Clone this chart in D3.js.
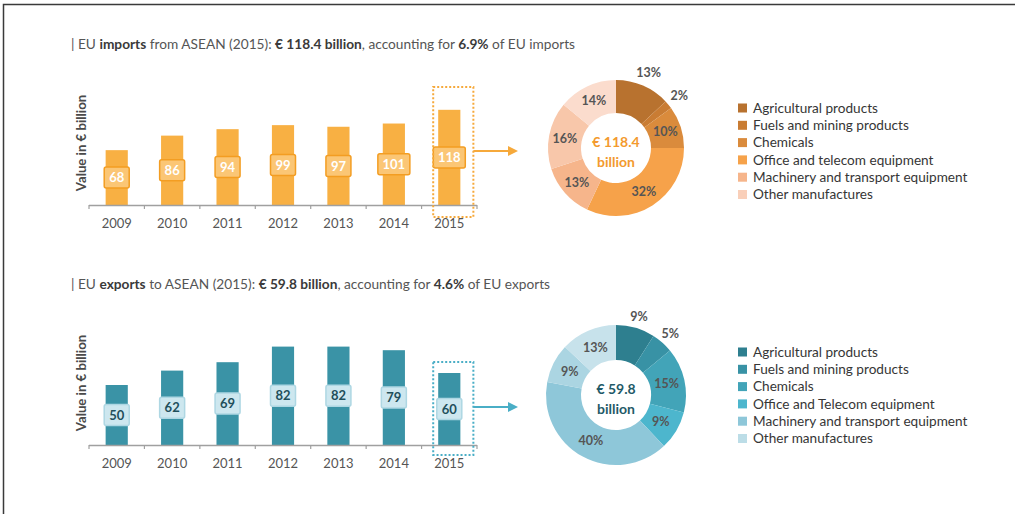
<!DOCTYPE html>
<html>
<head>
<meta charset="utf-8">
<script src="https://d3js.org/d3.v7.min.js"></script>
<style>
  body { margin: 0; background: #fff; }
  svg { display: block; font-family: Lato, "Open Sans", sans-serif; }
</style>
</head>
<body>
<div id="chart"></div>
<script>
// Data
var years = ["2009", "2010", "2011", "2012", "2013", "2014", "2015"];
var importValues = [68, 86, 94, 99, 97, 101, 118];
var exportValues = [50, 62, 69, 82, 82, 79, 60];

// donut slices, clockwise from 12 o'clock
var importShares = [13, 2, 10, 32, 13, 16, 14];
var exportShares = [9, 5, 15, 9, 40, 9, 13];

var importLegend = ["Agricultural products", "Fuels and mining products", "Chemicals",
  "Office and telecom equipment", "Machinery and transport equipment", "Other manufactures"];
var exportLegend = ["Agricultural products", "Fuels and mining products", "Chemicals",
  "Office and Telecom equipment", "Machinery and transport equipment", "Other manufactures"];

var width = 1015;
var height = 514;

var svg = d3.select("#chart")
  .append("svg")
  .attr("width", width)
  .attr("height", height);

// frame (top and left edges only)
svg.append("path")
  .attr("d", "M3.5," + height + "V4.5H" + width)
  .style("fill", "none")
  .style("stroke", "#3a3a3a")
  .style("stroke-width", 1.5);

var panels = [
  {
    title: [["| EU ", 400], ["imports", 700], [" from ASEAN (2015): ", 400], ["€ 118.4 billion", 700],
      [", accounting for ", 400], ["6.9%", 700], [" of EU imports", 400]],
    titleY: 49,
    values: importValues,
    maxValue: 150, yTop: 84, baseline: 205,
    bar: "#f8b043", boxFill: "#fbc675", boxStroke: "#f39d22", boxText: "#ffffff",
    accent: "#f6a93b",
    hiTop: 87, hiBottom: 217, arrowY: 151,
    shares: importShares,
    sliceColors: ["#b8722f", "#c97c33", "#da8b3c", "#f6a24a", "#f6b58b", "#f8c7aa", "#fbdccd"],
    legendColors: ["#b8722f", "#c97c33", "#da8b3c", "#f6a24a", "#f6b58b", "#f9cfb9"],
    legend: importLegend,
    cy: 148, outerR: 68,
    center: ["€ 118.4", "billion"], centerColor: "#f39a2e",
    legendY: 108
  },
  {
    title: [["| EU ", 400], ["exports", 700], [" to ASEAN (2015): ", 400], ["€ 59.8 billion", 700],
      [", accounting for ", 400], ["4.6%", 700], [" of EU exports", 400]],
    titleY: 289,
    values: exportValues,
    maxValue: 100, yTop: 325, baseline: 445,
    bar: "#3a93a6", boxFill: "#cde7ef", boxStroke: "#aed7e3", boxText: "#1f4f5b",
    accent: "#4aaec6",
    hiTop: 362, hiBottom: 455, arrowY: 407,
    shares: exportShares,
    sliceColors: ["#2e7f8f", "#3892a5", "#42a4b8", "#4db6cd", "#8ec7d9", "#abd5e2", "#c7e2eb"],
    legendColors: ["#2e7f8f", "#3892a5", "#42a4b8", "#4db6cd", "#8ec7d9", "#bcdde7"],
    legend: exportLegend,
    cy: 395, outerR: 70,
    center: ["€ 59.8", "billion"], centerColor: "#1f5a68",
    legendY: 352
  }
];

panels.forEach(function(p) {
  var g = svg.append("g");

  // Title
  var title = g.append("text")
    .attr("x", 71)
    .attr("y", p.titleY)
    .attr("font-size", "13.7px")
    .style("fill", "#555");
  title.selectAll("tspan")
    .data(p.title)
    .enter().append("tspan")
    .attr("font-weight", function(d) { return d[1]; })
    .style("fill", function(d) { return d[1] == 700 ? "#3a3a3a" : "#555"; })
    .text(function(d) { return d[0]; });

  // Scales
  var x = d3.scaleBand()
    .domain(years)
    .range([89, 477])
    .paddingInner(0.6)
    .paddingOuter(0.3);

  var y = d3.scaleLinear()
    .domain([0, p.maxValue])
    .range([p.baseline, p.yTop]);

  var gap = (x.step() - x.bandwidth()) / 2;

  // Bars
  g.selectAll(".bar")
    .data(p.values)
    .enter().append("rect")
    .attr("class", "bar")
    .attr("x", function(d, j) { return x(years[j]); })
    .attr("y", function(d) { return y(d); })
    .attr("width", x.bandwidth())
    .attr("height", function(d) { return y(0) - y(d); })
    .style("fill", p.bar);

  // Axis line + ticks at band boundaries
  g.append("line")
    .attr("x1", 89).attr("x2", 477)
    .attr("y1", p.baseline + 0.5).attr("y2", p.baseline + 0.5)
    .style("stroke", "#a0a0a0")
    .style("stroke-width", 1.5);

  var bounds = years.map(function(d) { return x(d) - gap; }).concat([477]);
  g.selectAll(".tick")
    .data(bounds)
    .enter().append("line")
    .attr("x1", function(d) { return d; })
    .attr("x2", function(d) { return d; })
    .attr("y1", p.baseline)
    .attr("y2", p.baseline + 4)
    .style("stroke", "#a0a0a0")
    .style("stroke-width", 1.2);

  var xAxis = g.append("g")
    .attr("transform", "translate(0," + p.baseline + ")")
    .call(d3.axisBottom(x).tickSize(0).tickPadding(14));
  xAxis.select(".domain").remove();
  xAxis.selectAll("text")
    .attr("font-size", "13px")
    .attr("font-family", "Lato, sans-serif")
    .style("fill", "#555");

  // Y axis title
  g.append("text")
    .attr("transform", "translate(86," + (p.baseline - 62) + ") rotate(-90)")
    .attr("text-anchor", "middle")
    .attr("font-size", "13.2px")
    .attr("font-weight", "bold")
    .style("fill", "#4a4a4a")
    .text("Value in € billion");

  // Value labels in boxes, at the middle of each bar
  var lab = g.selectAll(".lab")
    .data(p.values)
    .enter().append("g")
    .attr("class", "lab")
    .attr("transform", function(d, j) {
      return "translate(" + (x(years[j]) + x.bandwidth() / 2) + "," + y(d / 2) + ")";
    });
  lab.append("rect")
    .attr("x", function(d) { return String(d).length > 2 ? -16 : -12.5; })
    .attr("y", -10.5)
    .attr("width", function(d) { return String(d).length > 2 ? 32 : 25; })
    .attr("height", 21)
    .attr("rx", 2)
    .style("fill", p.boxFill)
    .style("stroke", p.boxStroke)
    .style("stroke-width", 1.5);
  lab.append("text")
    .attr("text-anchor", "middle")
    .attr("dy", "0.36em")
    .attr("font-size", "13px")
    .attr("font-weight", "bold")
    .style("fill", p.boxText)
    .text(function(d) { return d; });

  // Dotted highlight round 2015 and arrow
  var last = years[years.length - 1];
  g.append("rect")
    .attr("x", x(last) - 5)
    .attr("y", p.hiTop)
    .attr("width", x.bandwidth() + 18)
    .attr("height", p.hiBottom - p.hiTop)
    .style("fill", "none")
    .style("stroke", p.accent)
    .style("stroke-width", 2)
    .style("stroke-dasharray", "2,2");

  var ax0 = x(last) + x.bandwidth() + 13;
  g.append("line")
    .attr("x1", ax0).attr("x2", 510)
    .attr("y1", p.arrowY).attr("y2", p.arrowY)
    .style("stroke", p.accent)
    .style("stroke-width", 2);
  g.append("path")
    .attr("d", "M508," + (p.arrowY - 5) + "L518," + p.arrowY + "L508," + (p.arrowY + 5) + "Z")
    .style("fill", p.accent);

  // Donut
  var cx = 616;
  var pie = d3.pie().sort(null).value(function(d) { return d; });
  var arc = d3.arc().innerRadius(35).outerRadius(p.outerR);
  var labelArc = d3.arc().innerRadius(52).outerRadius(52);
  var outerArc = d3.arc().innerRadius(82).outerRadius(82);
  var arcs = pie(p.shares);

  var donut = g.append("g")
    .attr("transform", "translate(" + cx + "," + p.cy + ")");
  donut.selectAll("path")
    .data(arcs)
    .enter().append("path")
    .attr("d", arc)
    .style("fill", function(d, j) { return p.sliceColors[j]; })
    .style("stroke", "none");

  donut.selectAll(".pct")
    .data(arcs)
    .enter().append("text")
    .attr("class", "pct")
    .attr("transform", function(d, j) {
      return "translate(" + (j < 2 ? outerArc : labelArc).centroid(d) + ")";
    })
    .attr("text-anchor", "middle")
    .attr("dy", "0.35em")
    .attr("font-size", "12.5px")
    .attr("font-weight", "bold")
    .style("fill", "#555")
    .text(function(d) { return d.data + "%"; });

  donut.selectAll(".ctr")
    .data(p.center)
    .enter().append("text")
    .attr("class", "ctr")
    .attr("text-anchor", "middle")
    .attr("y", function(d, j) { return j == 0 ? -6 : 14; })
    .attr("dy", "0.35em")
    .attr("font-size", "14px")
    .attr("font-weight", "bold")
    .style("fill", p.centerColor)
    .text(function(d) { return d; });

  // Legend
  var leg = g.selectAll(".leg")
    .data(p.legend)
    .enter().append("g")
    .attr("class", "leg")
    .attr("transform", function(d, j) { return "translate(738," + (p.legendY + j * 17.3) + ")"; });
  leg.append("rect")
    .attr("x", 0).attr("y", -4.5)
    .attr("width", 9).attr("height", 9)
    .style("fill", function(d, j) { return p.legendColors[j]; });
  leg.append("text")
    .attr("x", 15)
    .attr("dy", "0.35em")
    .attr("font-size", "13.6px")
    .style("fill", "#363636")
    .text(function(d) { return d; });
});
</script>
</body>
</html>
